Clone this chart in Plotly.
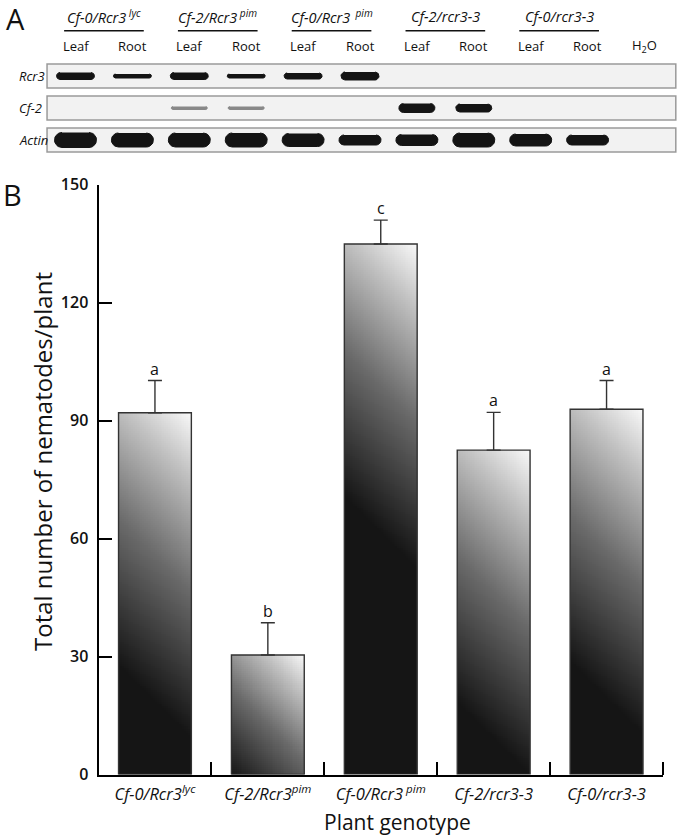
import numpy as np
import plotly.graph_objects as go

# ---------------- data: panel B ----------------
genotypes = ["<i>Cf-0/Rcr3</i><sup><i>lyc</i></sup>", "<i>Cf-2/Rcr3</i><sup><i>pim</i></sup>",
             "<i>Cf-0/Rcr3</i><sup><i> pim</i></sup>", "<i>Cf-2/rcr3-3</i>", "<i>Cf-0/rcr3-3</i>"]
nematodes = [92.0, 30.4, 134.9, 82.5, 92.9]
sem = [8.2, 8.2, 6.1, 9.6, 7.3]
letters = ["a", "b", "c", "a", "a"]
y_ticks = [0, 30, 60, 90, 120, 150]

# ---------------- data: panel A (RT-PCR gel) ----------------
group_labels = ["Cf-0/Rcr3<sup> lyc</sup>", "Cf-2/Rcr3<sup> pim</sup>", "Cf-0/Rcr3<sup>  pim</sup>",
                "Cf-2/rcr3-3", "Cf-0/rcr3-3"]
lane_labels = ["Leaf", "Root", "Leaf", "Root", "Leaf", "Root", "Leaf", "Root", "Leaf", "Root", "H<sub>2</sub>O"]
genes = ["Rcr3", "Cf-2", "Actin"]
band_signal = [
    [7, 4, 7, 4, 6, 8, 0, 0, 0, 0, 0],          # Rcr3
    [0, 0, 3, 3, 0, 0, 9, 8, 0, 0, 0],          # Cf-2
    [15, 14, 14, 14, 13, 10, 11, 14, 12, 10, 0]  # Actin
]
band_intensity = [
    [1, 1, 1, 1, 1, 1, 0, 0, 0, 0, 0],
    [0, 0, 0.45, 0.45, 0, 0, 1, 1, 0, 0, 0],
    [1, 1, 1, 1, 1, 1, 1, 1, 1, 1, 0],
]

# ---------------- layout geometry (pixels) ----------------
W, H = 678, 838
XB0, XB1 = 98.5, 663.0       # plot x extent, panel B
YB0, YB1 = 774.5, 184.7      # y=0 and y=150 pixel rows
YMAX = 150
n = len(nematodes)
PX_X = (XB1 - XB0) / n
PX_Y = (YB0 - YB1) / YMAX
BAR_W = 0.645
GRAD_LEN = 325.0

LANE0, LANE_PX = 75.5, 56.9   # panel A lane geometry
ROW0, ROW_PX = 76.0, 32.0
A_TOP, A_BOT = 0.0, 160.0

fig = go.Figure()

# gradient fills of bars (heatmaps on the bar axes)
gray_scale = [[0, "#151515"], [0.45, "#6a6a6a"], [0.8, "#c2c2c2"], [1, "#f9f9f9"]]
for i, h in enumerate(nematodes):
    nx = 40
    ny = max(30, int(h * PX_Y / 2))
    xe = np.linspace(i - BAR_W / 2, i + BAR_W / 2, nx + 1)
    ye = np.linspace(0, h, ny + 1)
    xc = (xe[:-1] + xe[1:]) / 2
    yc = (ye[:-1] + ye[1:]) / 2
    dx = (i + BAR_W / 2 - xc) * PX_X
    dy = (h - yc) * PX_Y
    d = dy[:, None] + dx[None, :]
    L = min(GRAD_LEN, BAR_W * PX_X + h * PX_Y)
    t = np.clip(1 - d / L, 0, 1)
    fig.add_trace(go.Heatmap(x=xe, y=ye, z=t, zmin=0, zmax=1, colorscale=gray_scale,
                             showscale=False, hoverinfo="skip", xaxis="x", yaxis="y"))

# bar outlines + error bars
fig.add_trace(go.Bar(
    x=list(range(n)), y=nematodes, width=BAR_W,
    marker=dict(color="rgba(0,0,0,0)", line=dict(color="#333333", width=1.4)),
    error_y=dict(type="data", symmetric=False, array=sem, arrayminus=[0] * n,
                 color="#333333", thickness=1.4, width=7),
    hoverinfo="skip", xaxis="x", yaxis="y", showlegend=False))

annotations = []
for i, (v, e, l) in enumerate(zip(nematodes, sem, letters)):
    annotations.append(dict(x=i, y=v + e, xref="x", yref="y", text=l, showarrow=False,
                            yshift=12, font=dict(size=16, color="#111")))

# ---------------- panel A ----------------
shapes = []
for r, g in enumerate(genes):
    shapes.append(dict(type="rect", xref="x2", yref="y2", x0=-0.5, x1=len(lane_labels) - 0.45,
                       y0=r - 0.375, y1=r + 0.375, fillcolor="#f2f2f2",
                       line=dict(color="#9a9a9a", width=1.5), layer="below"))
    annotations.append(dict(x=17 / W, xref="paper", y=r, yref="y2", text="<i>%s</i>" % g,
                            showarrow=False, xanchor="left", yanchor="middle",
                            font=dict(size=13, color="#111")))

band_half_len = [19.0, 18.0, 21.0]
for r, g in enumerate(genes):
    for lane, (s, inten) in enumerate(zip(band_signal[r], band_intensity[r])):
        if s <= 0 or inten <= 0:
            continue
        rad = s / 2.0
        hl = band_half_len[r]
        a1 = np.linspace(-np.pi / 2, np.pi / 2, 14)
        a2 = np.linspace(np.pi / 2, 3 * np.pi / 2, 14)
        px = np.concatenate([hl - rad + rad * np.cos(a1), -hl + rad + rad * np.cos(a2)])
        py = np.concatenate([rad * np.sin(a1), rad * np.sin(a2)])
        lvl = int(round(20 + (1 - inten) * 210))
        col = "rgb(%d,%d,%d)" % (lvl, lvl, lvl)
        fig.add_trace(go.Scatter(x=lane + px / LANE_PX, y=r + py / ROW_PX, mode="lines",
                                 fill="toself", fillcolor=col, line=dict(color=col, width=1),
                                 hoverinfo="skip", showlegend=False, xaxis="x2", yaxis="y2"))

for k, lab in enumerate(lane_labels):
    annotations.append(dict(x=k, y=(46 - ROW0) / ROW_PX, xref="x2", yref="y2", text=lab,
                            showarrow=False, xanchor="center", yanchor="middle",
                            font=dict(size=13, color="#111")))

for gi, lab in enumerate(group_labels):
    c = 2 * gi + 0.5
    shapes.append(dict(type="line", xref="x2", yref="y2", x0=c - 0.7, x1=c + 0.7,
                       y0=(30.7 - ROW0) / ROW_PX, y1=(30.7 - ROW0) / ROW_PX,
                       line=dict(color="#111", width=1.5)))
    annotations.append(dict(x=c, y=(16 - ROW0) / ROW_PX, xref="x2", yref="y2",
                            text="<i>%s</i>" % lab, showarrow=False,
                            xanchor="center", yanchor="middle",
                            font=dict(size=14.5, color="#111")))

# panel letters & titles
annotations += [
    dict(x=15 / W, y=1 - 18 / H, xref="paper", yref="paper", text="A", showarrow=False,
         xanchor="center", yanchor="middle", font=dict(size=29, color="#111")),
    dict(x=12 / W, y=1 - 194 / H, xref="paper", yref="paper", text="B", showarrow=False,
         xanchor="center", yanchor="middle", font=dict(size=29, color="#111")),
    dict(x=42 / W, y=1 - 462 / H, xref="paper", yref="paper", text="Total number of nematodes/plant",
         textangle=-90, showarrow=False, xanchor="center", yanchor="middle",
         font=dict(size=24, color="#111")),
    dict(x=397 / W, y=1 - 822 / H, xref="paper", yref="paper", text="Plant genotype",
         showarrow=False, xanchor="center", yanchor="middle", font=dict(size=21, color="#111")),
]

fig.update_layout(
    width=W, height=H, margin=dict(l=0, r=0, t=0, b=0, pad=0, autoexpand=False),
    paper_bgcolor="white", plot_bgcolor="white",
    font=dict(family="Open Sans, Noto Sans, sans-serif", color="#111"),
    showlegend=False,
    xaxis=dict(domain=[XB0 / W, XB1 / W], range=[-0.5, n - 0.5], tickmode="array",
               tickvals=list(range(n)), ticktext=genotypes, ticks="", showgrid=False,
               zeroline=False, showline=True, linecolor="black", linewidth=2,
               tickfont=dict(size=16.5, color="#111"), ticklabelstandoff=4,
               minor=dict(tickmode="array", tickvals=[i + 0.5 for i in range(n)],
                          ticks="inside", ticklen=13, tickwidth=2, tickcolor="black",
                          showgrid=False),
               automargin=False, fixedrange=True),
    yaxis=dict(domain=[1 - YB0 / H, 1 - YB1 / H], range=[0, YMAX], tickmode="array",
               tickvals=y_ticks, ticks="inside", ticklen=13, tickwidth=2, tickcolor="black",
               showgrid=False, zeroline=False, showline=True, linecolor="black", linewidth=2,
               tickfont=dict(size=16, color="#111", weight=600), ticklabelstandoff=5,
               automargin=False, fixedrange=True),
    xaxis2=dict(domain=[0, 1], range=[-LANE0 / LANE_PX, (W - LANE0) / LANE_PX], visible=False,
                anchor="y2", automargin=False, fixedrange=True),
    yaxis2=dict(domain=[1 - A_BOT / H, 1 - A_TOP / H],
                range=[(A_BOT - ROW0) / ROW_PX, (A_TOP - ROW0) / ROW_PX], visible=False,
                anchor="x2", automargin=False, fixedrange=True),
    shapes=shapes, annotations=annotations,
)

fig.write_html("out.html", config={"displayModeBar": False},
               post_script="document.body.style.margin='0px';")
